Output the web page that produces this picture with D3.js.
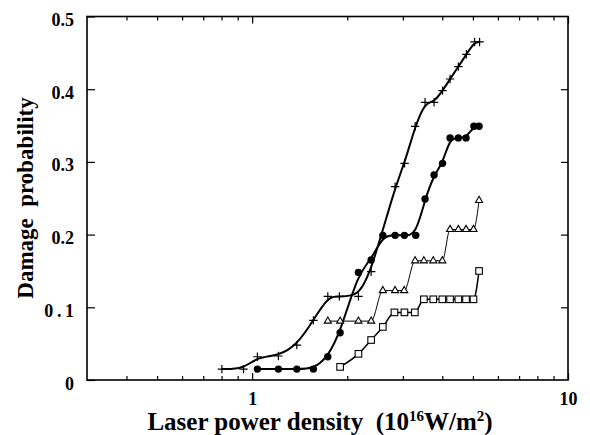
<!DOCTYPE html>
<html>
<head>
<meta charset="utf-8">
<script src="https://cdn.jsdelivr.net/npm/d3@7"></script>
<style>
  html, body { margin: 0; padding: 0; background: #fff; }
  svg { display: block; }
  text { font-family: "Liberation Serif", "Times New Roman", serif; font-weight: bold; fill: #000; }
</style>
</head>
<body>
<svg id="chart" width="590" height="435"></svg>
<script>
// ---- data ----
const plusX = [0.802, 0.939, 1.039, 1.211, 1.385, 1.563, 1.736, 1.889, 2.170, 2.381, 2.835, 3.038, 3.281, 3.527, 3.767, 4.007, 4.233, 4.496, 4.767, 5.061, 5.249];
const plusY = [0.015, 0.015, 0.032, 0.033, 0.048, 0.082, 0.115, 0.115, 0.115, 0.149, 0.266, 0.298, 0.349, 0.382, 0.382, 0.398, 0.414, 0.431, 0.448, 0.465, 0.465];

const circleX = [1.039, 1.211, 1.385, 1.563, 1.736, 1.899, 2.170, 2.381, 2.593, 2.835, 3.035, 3.297, 3.527, 3.767, 4.007, 4.233, 4.496, 4.755, 5.036, 5.229];
const circleY = [0.015, 0.015, 0.015, 0.015, 0.032, 0.065, 0.148, 0.165, 0.199, 0.199, 0.199, 0.199, 0.249, 0.282, 0.298, 0.333, 0.333, 0.333, 0.349, 0.349];

const triX = [1.736, 1.899, 2.170, 2.381, 2.593, 2.835, 3.030, 3.281, 3.497, 3.745, 4.000, 4.233, 4.496, 4.755, 5.020, 5.229];
const triY = [0.081, 0.081, 0.081, 0.081, 0.123, 0.123, 0.123, 0.164, 0.164, 0.164, 0.164, 0.207, 0.207, 0.207, 0.207, 0.247];

const sqX = [1.899, 2.170, 2.381, 2.593, 2.822, 3.035, 3.273, 3.497, 3.745, 4.000, 4.233, 4.496, 4.755, 5.020, 5.229];
const sqY = [0.018, 0.036, 0.055, 0.073, 0.093, 0.093, 0.093, 0.111, 0.111, 0.111, 0.111, 0.111, 0.111, 0.111, 0.150];

const xMajorTicks = [1, 10];
const xMajorLabels = ["1", "10"];
const xMinorTicks = [0.4, 0.5, 0.6, 0.7, 0.8, 0.9, 2, 3, 4, 5, 6, 7, 8, 9];
const yTicks = [0, 0.1, 0.2, 0.3, 0.4, 0.5];
const yLabels = ["0", "0\u2009.\u20091", "0.2", "0.3", "0.4", "0.5"];

// ---- layout ----
const svg = d3.select("#chart");
const L = 87, R = 568, T = 16.5, B = 380;
const x = d3.scaleLog().domain([0.3, 10]).range([L, R]);
const y = d3.scaleLinear().domain([0, 0.5]).range([B, T]);

// frame
svg.append("rect").attr("x", L).attr("y", T).attr("width", R - L).attr("height", B - T)
  .attr("fill", "none").attr("stroke", "#000").attr("stroke-width", 1.6);

function styleAxis(g) {
  g.select(".domain").remove();
  g.selectAll(".tick line").attr("stroke", "#000").attr("stroke-width", 1.2);
}

// bottom axis: minor ticks
svg.append("g").attr("transform", `translate(0,${B})`)
  .call(d3.axisBottom(x).tickValues(xMinorTicks).tickSize(-4).tickFormat(""))
  .call(styleAxis);
// bottom axis: major ticks with labels
svg.append("g").attr("transform", `translate(0,${B})`)
  .call(d3.axisBottom(x).tickValues(xMajorTicks).tickSize(-7).tickFormat((d, i) => xMajorLabels[i]))
  .call(styleAxis)
  .call(g => g.selectAll(".tick text").attr("y", 25).attr("dy", 0)
    .attr("font-size", 18).attr("font-family", "Liberation Serif").attr("font-weight", "bold"));
// top axis ticks
svg.append("g").attr("transform", `translate(0,${T})`)
  .call(d3.axisTop(x).tickValues(xMinorTicks).tickSize(-4).tickFormat(""))
  .call(styleAxis);
svg.append("g").attr("transform", `translate(0,${T})`)
  .call(d3.axisTop(x).tickValues(xMajorTicks).tickSize(-7).tickFormat(""))
  .call(styleAxis);

// left axis
svg.append("g").attr("transform", `translate(${L},0)`)
  .call(d3.axisLeft(y).tickValues(yTicks).tickSize(-8).tickPadding(13).tickFormat((d, i) => yLabels[i]))
  .call(styleAxis)
  .call(g => g.selectAll(".tick text").attr("dy", "0.5em")
    .attr("font-size", 18).attr("font-family", "Liberation Serif").attr("font-weight", "bold"));
// right axis
svg.append("g").attr("transform", `translate(${R},0)`)
  .call(d3.axisRight(y).tickValues(yTicks.slice(1, 5)).tickSize(-7).tickFormat(""))
  .call(styleAxis);

// ---- series ----
const zip = (xs, ys) => xs.map((v, i) => [v, ys[i]]);
const smooth = d3.line().x(d => x(d[0])).y(d => y(d[1])).curve(d3.curveBasis);
const mono = d3.line().x(d => x(d[0])).y(d => y(d[1])).curve(d3.curveMonotoneX);

const plusData = zip(plusX, plusY);
const circData = zip(circleX, circleY);
const triData = zip(triX, triY);
const sqData = zip(sqX, sqY);

svg.append("path").datum(plusData).attr("d", smooth).attr("fill", "none").attr("stroke", "#000").attr("stroke-width", 2);
svg.append("path").datum(circData).attr("d", smooth).attr("fill", "none").attr("stroke", "#000").attr("stroke-width", 2);
svg.append("path").datum(triData).attr("d", mono).attr("fill", "none").attr("stroke", "#000").attr("stroke-width", 1);
svg.append("path").datum(sqData).attr("d", mono).attr("fill", "none").attr("stroke", "#000").attr("stroke-width", 1.5);

// plus markers
svg.append("g").selectAll("path").data(plusData).join("path")
  .attr("transform", d => `translate(${x(d[0])},${y(d[1])})`)
  .attr("d", () => { const a = 4.2; return `M${-a},0H${a}M0,${-a}V${a}`; })
  .attr("stroke", "#000").attr("stroke-width", 1.2).attr("fill", "none");

// circle markers
svg.append("g").selectAll("circle").data(circData).join("circle")
  .attr("cx", d => x(d[0])).attr("cy", d => y(d[1])).attr("r", 3.7).attr("fill", "#000");

// triangle markers
svg.append("g").selectAll("path").data(triData).join("path")
  .attr("transform", d => `translate(${x(d[0])},${y(d[1])})`)
  .attr("d", d3.symbol().type(d3.symbolTriangle).size(22))
  .attr("fill", "#fff").attr("stroke", "#000").attr("stroke-width", 1.1);

// square markers
svg.append("g").selectAll("rect").data(sqData).join("rect")
  .attr("x", d => x(d[0]) - 3.3).attr("y", d => y(d[1]) - 3.3).attr("width", 6.6).attr("height", 6.6)
  .attr("fill", "#fff").attr("stroke", "#000").attr("stroke-width", 1.1);

// ---- titles ----
const xt = svg.append("text").attr("x", 320).attr("y", 430).attr("text-anchor", "middle").attr("font-size", 25);
xt.append("tspan").text("Laser power density\u00a0 (10");
xt.append("tspan").attr("font-size", 15).attr("dy", -9).text("16");
xt.append("tspan").attr("dy", 9).text("W/m");
xt.append("tspan").attr("font-size", 15).attr("dy", -9).text("2");
xt.append("tspan").attr("dy", 9).text(")");

svg.append("text").attr("transform", "translate(33,198) rotate(-90)").attr("text-anchor", "middle")
  .attr("font-size", 23).text("Damage\u00a0 probability");
</script>
</body>
</html>
